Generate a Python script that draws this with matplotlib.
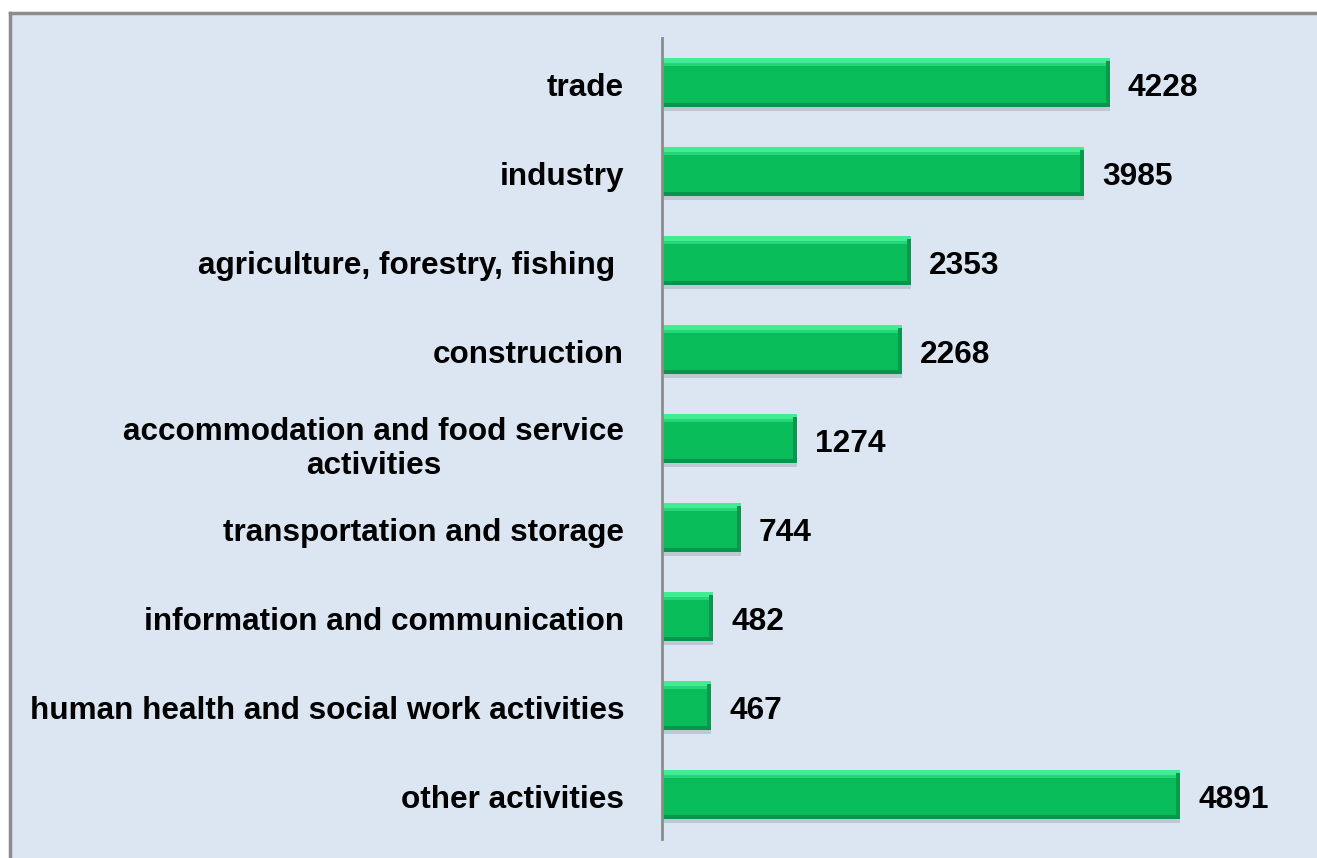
import matplotlib
matplotlib.use("Agg")
import matplotlib.pyplot as plt
from matplotlib.patches import Rectangle

categories = ["trade", "industry", "agriculture, forestry, fishing ", "construction",
              "accommodation and food service\nactivities", "transportation and storage",
              "information and communication", "human health and social work activities",
              "other activities"]
values = [4228, 3985, 2353, 2268, 1274, 744, 482, 467, 4891]

plt.rcParams['font.family'] = ['Liberation Sans', 'DejaVu Sans']

W, H = 1317, 858
fig = plt.figure(figsize=(W / 100, H / 100), dpi=100)
fig.patch.set_facecolor('white')
# background panel with grey border on top/left
fig.patches.append(Rectangle((10 / W, 0), 1 - 10 / W, 1 - 13 / H, transform=fig.transFigure,
                             facecolor='#DCE6F2', edgecolor='none', zorder=-10))
fig.lines.append(plt.Line2D([10 / W, 10 / W], [0, 1 - 13 / H], transform=fig.transFigure,
                            color='#8C8C8C', lw=2.5, zorder=-5))
fig.lines.append(plt.Line2D([10 / W, 1], [1 - 13 / H, 1 - 13 / H], transform=fig.transFigure,
                            color='#8C8C8C', lw=2.5, zorder=-5))

ax_left, ax_right = 662, 1300
ax_top, ax_bot = 38, 839
ax = fig.add_axes([ax_left / W, 1 - ax_bot / H, (ax_right - ax_left) / W, (ax_bot - ax_top) / H])
ax.set_zorder(1)
ax.set_facecolor('none')
px_per_unit = (1110 - 662) / 4228
xmax = (ax_right - ax_left) / px_per_unit
ax.set_xlim(0, xmax)
ax.set_ylim(len(values) - 0.5, -0.5)

y = list(range(len(values)))
bh = 0.55
# shadow
ax.barh([v + 0.04 for v in y], values, height=bh, left=0, color='#9AA5B3', alpha=0.45, zorder=1)
# main bar
ax.barh(y, values, height=bh, color='#08BC5A', zorder=2)
# top highlight
ax.barh([v - bh / 2 + 0.03 for v in y], values, height=0.06, color='#40EE91', zorder=3)
ax.barh([v - bh / 2 + 0.075 for v in y], values, height=0.04, color='#24D677', zorder=3)
# bottom dark edge
ax.barh([v + bh / 2 - 0.025 for v in y], values, height=0.05, color='#07944B', zorder=3)
# right bevel
bev = 4 / px_per_unit
ax.barh(y, [bev] * len(values), height=bh - 0.06, left=[v - bev for v in values],
        color='#069A4B', zorder=4)

for yi, v in zip(y, values):
    ax.text(v + 18 / px_per_unit, yi + 0.15, str(v), va='baseline', ha='left',
            fontsize=22.8, fontweight='bold', color='black')

# category labels
ax.set_yticks([])
xlab = -38 / (ax_right - ax_left)
tr = ax.get_yaxis_transform()
for yi, lab in zip(y, categories):
    off = 0.40 if '\n' in lab else 0.15
    ax.text(xlab, yi + off, lab, transform=tr, ha='right', va='baseline',
            fontsize=22.7, fontweight='bold', color='black', linespacing=1.2,
            multialignment='center')

ax.set_xticks([])
for s in ['top', 'right', 'bottom']:
    ax.spines[s].set_visible(False)
ax.spines['left'].set_color('#8C8C8C')
ax.spines['left'].set_linewidth(2)
ax.spines['left'].set_zorder(5)

fig.savefig('out.png', dpi=100)
